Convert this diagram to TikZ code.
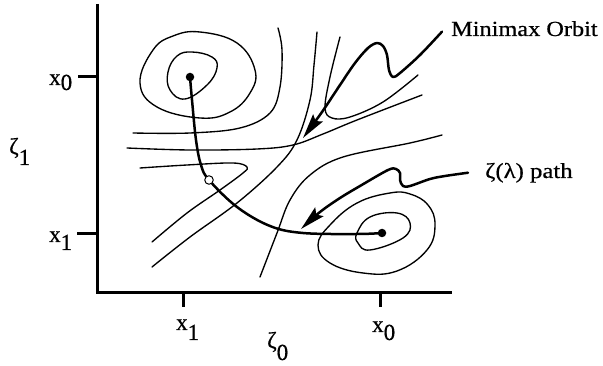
\documentclass[tikz,border=0pt]{standalone}
\usepackage{fontspec}
\setmainfont{Liberation Serif}
\newfontfamily\heavyserif[FakeBold=0.6]{Liberation Serif}
\usetikzlibrary{arrows.meta}
\pgfdeclarelayer{background}
\pgfsetlayers{background,main}
\begin{document}
\begin{tikzpicture}[x=1pt,y=-1pt,
  contour/.style={line width=1.35pt, line cap=round, line join=round},
  axisline/.style={line width=3pt},
  tickline/.style={line width=3pt},
  orbitpath/.style={line width=2.5pt, line cap=round},
  pointer/.style={line width=2.5pt, line cap=round, line join=round,
    -{Stealth[length=25pt,width=12pt,inset=4pt]}},
  blackdot/.style={circle, fill=black, inner sep=0pt, minimum size=8.5pt},
  whitedot/.style={circle, draw=black, fill=white, line width=1pt, inner sep=0pt, minimum size=8.5pt},
  lbl/.style={font=\heavyserif\fontsize{23}{25}\selectfont, inner sep=0pt, anchor=base west},
  callout/.style={font=\heavyserif\fontsize{21.5}{24}\selectfont, inner sep=0pt, anchor=base west}]
\useasboundingbox (0,0) rectangle (603,366);

% axes
\draw[axisline] (97,4) -- (97,292.5) -- (452,292.5);
\draw[tickline] (78,77) -- (97,77);
\draw[tickline] (77,234) -- (97,234);
\draw[tickline] (183,292) -- (183,307);
\draw[tickline] (380,292) -- (380,307);

% axis labels
\node[lbl] (ylx0) at (49,85) {x\raisebox{-5pt}{0}};
\node[lbl] (ylx1) at (49,242) {x\raisebox{-8pt}{1}};
\node[lbl] (yz1) at (9,154) {ζ\raisebox{-11pt}{1}};
\node[lbl] (xlx1) at (176,330) {x\raisebox{-10pt}{1}};
\node[lbl] (xlx0) at (372,332) {x\raisebox{-8pt}{0}};
\node[lbl] (xz0) at (267,348) {ζ\raisebox{-12pt}{0}};

% contours
\draw[contour] plot[smooth cycle, tension=0.7] coordinates {(200,32) (237,43) (255,70) (250,93) (230,112) (200,118) (157,107) (140,83) (153,50) (173,36)};
\draw[contour] plot[smooth cycle, tension=0.7] coordinates {(192,52) (212,57) (217,68) (207,85) (185,99) (170,90) (168,72) (177,56)};
\draw[contour] plot[smooth, tension=0.6] coordinates {(133,133) (190,133) (240,128) (270,113) (280,87) (282,50) (278,28)};
\draw[contour] plot[smooth, tension=0.6] coordinates {(127,148) (190,150) (257,149) (293,145) (323,134) (357,120) (422,95)};
\draw[contour] plot[smooth, tension=0.6] coordinates {(317,32) (314,65) (310,100) (297,140) (277,167) (237,203) (190,237) (152,267)};
\draw[contour] plot[smooth, tension=0.6] coordinates {(140,168) (187,165) (233,163) (247,167) (243,173) (220,190) (187,213) (152,242)};
\draw[contour] plot[smooth, tension=0.6] coordinates {(340,37) (330,77) (325,108) (332,118) (350,117) (383,102) (418,75)};
\draw[contour] plot[smooth, tension=0.6] coordinates {(260,277) (277,233) (290,200) (310,175) (343,157) (410,143) (442,135)};
\draw[contour] plot[smooth cycle, tension=0.7] coordinates {(318,245) (330,225) (357,203) (390,193) (410,194) (428,205) (435,225) (427,250) (397,271) (363,273) (330,263)};
\draw[contour] plot[smooth cycle, tension=0.7] coordinates {(357,233) (370,217) (397,213) (410,223) (403,238) (370,250) (358,243)};

% critical points
\node[blackdot] (pA) at (190,77) {};
\node[blackdot] (pB) at (382,233) {};
\node[whitedot] (sad) at (209,180) {};

% zeta(lambda) path
\begin{pgfonlayer}{background}
\draw[orbitpath] plot[smooth, tension=0.6] coordinates {(pA) (192,100) (196,140) (201,165) (sad) (237,207) (270,226) (303,233) (357,234) (pB)};
\end{pgfonlayer}

% callouts
\node[callout] (mm) at (451,36) {\scalebox{1.13}[1]{Minimax Orbit}};
\node[callout] (zl) at (485,178) {\scalebox{1.15}[1]{ζ(λ) path}};
\coordinate (mmtip) at (303,138);
\coordinate (zltip) at (301,229);

\draw[pointer] plot[smooth, tension=0.55] coordinates {([xshift=-9pt,yshift=-3pt]mm.west) (420,55) (400,73) (393,77) (389,70) (387,55) (383,46) (377,43) (368,48) (355,63) (340,85) (322,112) (mmtip)};
\draw[pointer] plot[smooth, tension=0.55] coordinates {([xshift=-17pt,yshift=0pt]zl.west) (445,176) (430,179) (410,186) (403,186) (400,180) (400,173) (396,169) (388,170) (360,186) (340,198) (320,212) (zltip)};
\end{tikzpicture}
\end{document}
